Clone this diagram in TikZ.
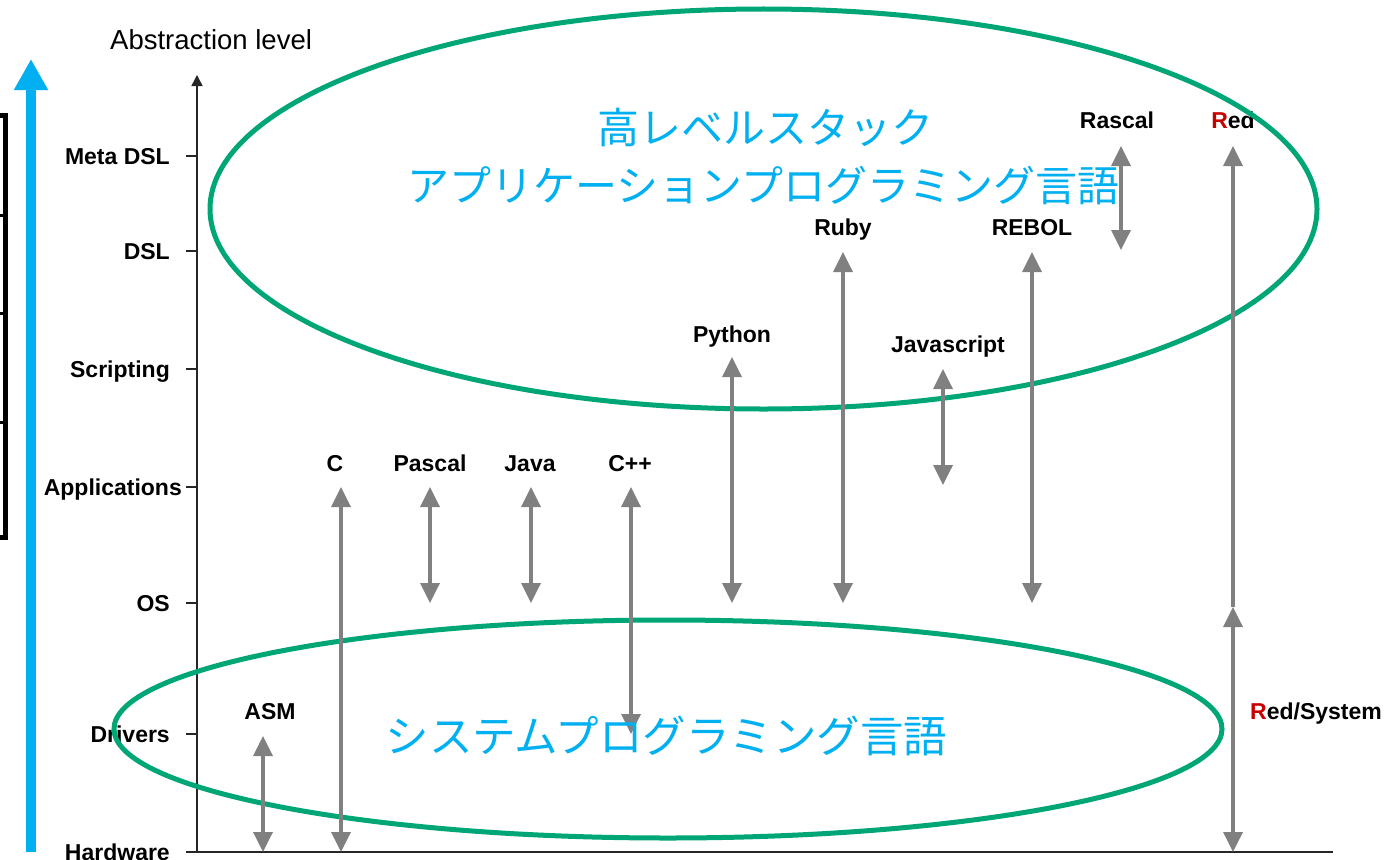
\documentclass[tikz,border=0pt]{standalone}
\usepackage{fontspec}
\setmainfont{Liberation Sans}
\newfontfamily\jpfont{Noto Sans CJK JP}
\usetikzlibrary{arrows.meta}
\definecolor{ellgreen}{RGB}{0,166,118}
\definecolor{jpblue}{RGB}{0,176,240}
\definecolor{arrgray}{RGB}{128,128,128}
\definecolor{redR}{RGB}{200,0,0}
\begin{document}
\begin{tikzpicture}[x=1pt,y=-1pt,
  lvl/.style={font=\fontsize{23}{27}\selectfont\bfseries, anchor=base east, inner sep=0pt},
  lang/.style={font=\fontsize{23}{27}\selectfont\bfseries, anchor=base, inner sep=0pt},
  jp/.style={font=\jpfont\fontsize{42}{50}\selectfont, text=jpblue, anchor=base, inner sep=0pt},
  ell/.style={draw=ellgreen, line width=5pt},
  garrow/.style={draw=arrgray, line width=3.5pt, {Triangle[width=19pt,length=20pt]}-{Triangle[width=19pt,length=20pt]}},
  gup/.style={draw=arrgray, line width=3.5pt, -{Triangle[width=19pt,length=20pt]}},
  axisline/.style={draw=black!85, line width=1.5pt},
  tickline/.style={draw=black!85, line width=1.5pt},
]
\useasboundingbox (0,0) rectangle (1396,859);
\fill[white] (0,0) rectangle (1396,859);

% left black box
\draw[line width=5pt] (-20,115) rectangle (5.5,537);
\draw[line width=3pt] (-20,215) -- (5.5,215);
\draw[line width=3pt] (-20,313) -- (5.5,313);
\draw[line width=3pt] (-20,422) -- (5.5,422);

% blue arrow
\coordinate (bb) at (31,852);
\coordinate (bt) at (31,59);
\draw[jpblue, line width=10.5pt, -{Triangle[width=32pt,length=31pt]}] (bb) -- (bt);

% axes
\node[font=\fontsize{27.5}{33}\selectfont, anchor=base west, inner sep=0pt] (abs) at (110,50) {Abstraction level};
\coordinate (O) at (197,852);
\coordinate (Ytop) at (197,75);
\coordinate (Xend) at (1333,852);
\draw[axisline, -{Triangle[width=11pt,length=11pt]}] (O) -- (Ytop);
\draw[axisline] (O) -- (Xend);

% ticks and level labels
\foreach \y/\nm/\rx/\txt in {156/meta/170/Meta DSL, 251/dsl/170/DSL, 369/scr/170/Scripting, 487/app/182/Applications, 603/os/170/OS, 734/drv/170/Drivers, 852/hw/170/Hardware}{
  \coordinate (t\nm a) at (186,\y);
  \coordinate (t\nm b) at (197,\y);
  \draw[tickline] (t\nm a) -- (t\nm b);
  \node[lvl] (l\nm) at (\rx,\y+8) {\txt};
}

% language labels
\node[lang] (asm) at (270,719) {ASM};
\node[lang] (c) at (335,471) {C};
\node[lang] (pascal) at (430,471) {Pascal};
\node[lang] (java) at (530,471) {Java};
\node[lang] (cpp) at (630,471) {C++};
\node[lang] (python) at (732,342) {Python};
\node[lang] (ruby) at (843,235) {Ruby};
\node[lang] (js) at (948,352) {Javascript};
\node[lang] (rebol) at (1032,235) {REBOL};
\node[lang] (rascal) at (1117,128) {Rascal};
\node[lang] (red) at (1233,128) {\textcolor{redR}{R}ed};
\node[lang, anchor=base west] (redsys) at (1250,719) {\textcolor{redR}{R}ed/System};

% ellipses
\draw[ell] (763.5,209) ellipse [x radius=553.5pt, y radius=200pt];
\draw[ell] (668,729) ellipse [x radius=554pt, y radius=109pt];

% arrow end points
\coordinate (asmT) at (263,736);    \coordinate (asmB) at (263,852);
\coordinate (cT) at (341,487);      \coordinate (cB) at (341,852);
\coordinate (pascalT) at (430,487); \coordinate (pascalB) at (430,603);
\coordinate (javaT) at (531,487);   \coordinate (javaB) at (531,603);
\coordinate (cppT) at (631,487);    \coordinate (cppB) at (631,734);
\coordinate (pyT) at (732,357);     \coordinate (pyB) at (732,603);
\coordinate (rubyT) at (843,252);   \coordinate (rubyB) at (843,603);
\coordinate (jsT) at (943,369);     \coordinate (jsB) at (943,485);
\coordinate (rebolT) at (1032,252); \coordinate (rebolB) at (1032,603);
\coordinate (rascalT) at (1121,146);\coordinate (rascalB) at (1121,250);
\coordinate (redT) at (1233,146);   \coordinate (redM) at (1233,607);
\coordinate (redB) at (1233,852);

\draw[garrow] (asmT) -- (asmB);
\draw[garrow] (cT) -- (cB);
\draw[garrow] (pascalT) -- (pascalB);
\draw[garrow] (javaT) -- (javaB);
\draw[garrow] (cppT) -- (cppB);
\draw[garrow] (pyT) -- (pyB);
\draw[garrow] (rubyT) -- (rubyB);
\draw[garrow] (jsT) -- (jsB);
\draw[garrow] (rebolT) -- (rebolB);
\draw[garrow] (rascalT) -- (rascalB);
\draw[gup] (redM) -- (redT);
\draw[garrow] (redM) -- (redB);

% Japanese texts
\node[jp] (hi1) at (765,143) {高レベルスタック};
\node[jp] (hi2) at (763.5,201) {アプリケーションプログラミング言語};
\node[jp, font=\jpfont\fontsize{43.5}{52}\selectfont] (sys) at (666.5,752) {システムプログラミング言語};
\end{tikzpicture}
\end{document}
